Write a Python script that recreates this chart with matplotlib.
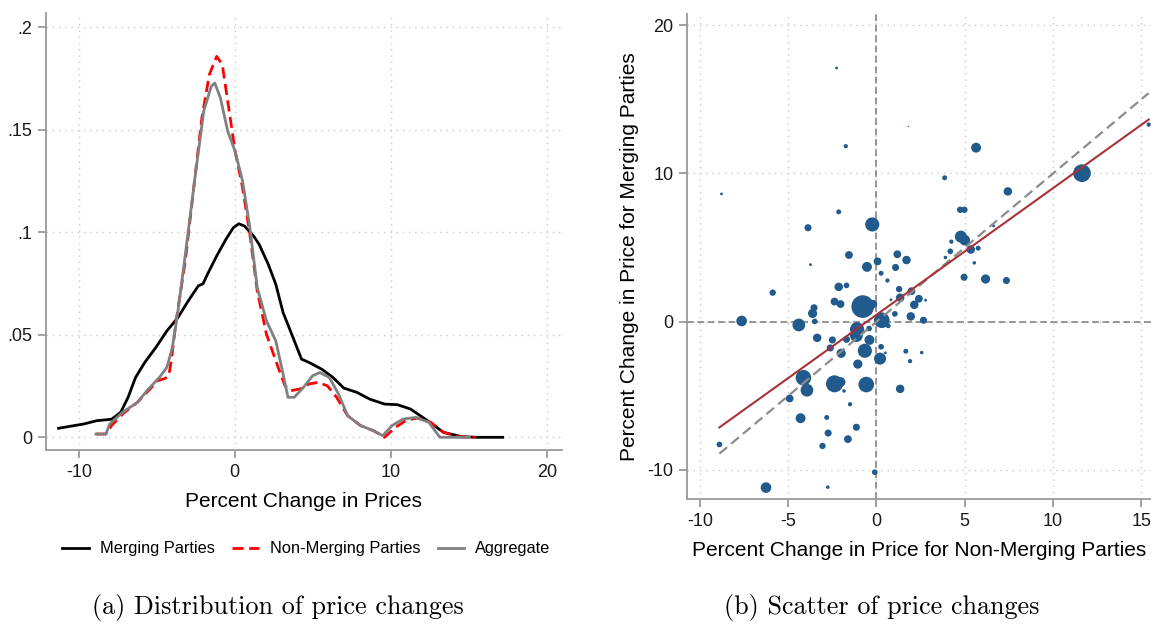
import matplotlib
matplotlib.use('Agg')
import matplotlib.pyplot as plt
import numpy as np

plt.rcParams['font.family'] = ['Liberation Sans', 'DejaVu Sans']
plt.rcParams['axes.unicode_minus'] = False

# kernel density of price changes, read as (x, density) pairs
merg_x = [-11.3, -9.68, -8.85, -7.9, -7.31, -6.84, -6.36, -5.77, -5.06, -4.35, -3.64, -3.05,
          -2.70, -2.34, -2.03, -1.75, -1.16, -0.57, -0.09, 0.26, 0.62, 1.21, 1.56, 2.15,
          2.63, 3.10, 3.69, 4.28, 4.76, 5.58, 6.29, 6.99, 7.83, 8.66, 9.6, 10.43, 11.26,
          12.21, 13.39, 14.57, 15.52, 17.18]
merg_y = [0.0044, 0.0065, 0.0081, 0.0088, 0.0122, 0.0195, 0.0292, 0.0365, 0.0438, 0.0519,
          0.0584, 0.0657, 0.0697, 0.0738, 0.0749, 0.0795, 0.0884, 0.0965, 0.1022, 0.1041,
          0.1030, 0.0981, 0.0941, 0.0843, 0.0746, 0.0608, 0.0495, 0.0381, 0.0365, 0.0332,
          0.0292, 0.0240, 0.0219, 0.0186, 0.0162, 0.0159, 0.0138, 0.0089, 0.0024, 0.0003,
          0.0, 0.0]

nonmerg_x = [-8.9, -8.26, -7.9, -7.19, -6.25, -5.54, -4.94, -4.47, -4.23, -4.07, -3.76, -3.17,
             -2.58, -2.11, -1.63, -1.16, -0.8, -0.45, 0.02, 0.50, 0.97, 1.44, 2.03, 2.63,
             3.22, 3.57, 4.16, 4.76, 5.35, 5.94, 6.53, 7.24, 8.07, 8.9, 9.6, 10.31, 11.02,
             11.73, 12.56, 13.39, 14.34, 15.4]
nonmerg_y = [0.0016, 0.0016, 0.0057, 0.0114, 0.0170, 0.0227, 0.0276, 0.0287, 0.0300, 0.0373,
             0.0568, 0.0860, 0.1249, 0.1557, 0.1768, 0.1857, 0.1817, 0.1638, 0.1395, 0.1217,
             0.0989, 0.0714, 0.0503, 0.0373, 0.0251, 0.0227, 0.0235, 0.0260, 0.0268, 0.0251,
             0.0195, 0.0105, 0.0057, 0.0032, 0.0, 0.0049, 0.0084, 0.0094, 0.0073, 0.0024,
             0.0003, 0.0]

agg_x = [-8.9, -8.26, -8.02, -7.19, -6.25, -5.54, -4.83, -4.35, -4.0, -3.64, -3.17, -2.58,
         -1.99, -1.51, -1.28, -0.92, -0.45, 0.02, 0.50, 0.97, 1.44, 2.03, 2.63, 3.10, 3.41,
         3.81, 4.4, 4.99, 5.46, 6.06, 6.65, 7.24, 8.07, 8.9, 9.49, 10.08, 10.79, 11.61,
         12.44, 13.15, 15.05]
agg_y = [0.0016, 0.0016, 0.0065, 0.0122, 0.0170, 0.0235, 0.0292, 0.0341, 0.0438, 0.0616,
         0.0892, 0.1249, 0.1590, 0.1711, 0.1727, 0.1655, 0.1492, 0.1395, 0.1249, 0.1022,
         0.0730, 0.0568, 0.0470, 0.0308, 0.0195, 0.0195, 0.0243, 0.0300, 0.0316, 0.0292,
         0.0211, 0.0105, 0.0057, 0.0032, 0.0008, 0.0057, 0.0089, 0.0097, 0.0073, 0.0, 0.0]

# market-level price changes (non-merging on x, merging on y) and analytic weights
chg_nonmerg = [-2.26, 1.80, -1.74, 5.64, -8.78, 11.64, 3.86, 7.44, -2.14, 4.74, 4.98, -0.24,
               -3.88, 6.64, 4.78, 5.00, 4.24, 5.34, 5.76, 4.18, 3.90, 5.54, -1.56, 1.18,
               1.70, 0.06, -0.54, 1.08, -3.74, 0.26, 0.62, 4.96, 6.18, 7.36, -2.14, -1.70,
               -5.88, 1.28, 1.98, 2.40, 2.78, 0.82, 1.34, -2.38, -2.04, -0.78, -0.20, 2.14,
               -3.54, -3.62, 1.04, 1.94, 2.66, -3.50, -7.64, -4.40, 0.30, 0.66, -0.42, -1.10,
               -1.14, -3.36, -2.50, -1.70, -0.40, -2.62, 0.26, -2.00, -0.66, 1.66, 2.56, 0.50,
               0.20, 1.90, -1.06, -4.14, -3.94, -2.38, -2.04, -1.84, -0.58, 1.34, -4.92, -1.50,
               -4.30, -2.82, -2.74, -1.14, -1.62, -3.06, -8.90, -0.10, -6.26, -2.76, 15.42]
chg_merg = [17.12, 13.17, 11.84, 11.74, 8.62, 10.02, 9.71, 8.79, 7.41, 7.55, 7.55, 6.56,
            6.34, 6.46, 5.74, 5.50, 5.40, 4.87, 4.96, 4.75, 4.33, 3.97, 4.50, 4.55,
            4.16, 4.07, 3.70, 3.66, 3.85, 3.27, 2.78, 3.00, 2.88, 2.78, 2.35, 2.45,
            1.96, 2.20, 2.06, 1.55, 1.45, 1.48, 1.62, 1.36, 1.19, 1.02, 1.19, 1.14,
            0.94, 0.56, 0.53, 0.36, 0.10, 0.02, 0.05, -0.22, 0.10, -0.27, -0.46, -0.51,
            -0.94, -1.09, -1.23, -1.19, -1.23, -1.77, -1.69, -2.13, -1.96, -1.99, -2.08, -2.10,
            -2.49, -2.66, -2.86, -3.78, -4.62, -4.19, -4.07, -4.67, -4.24, -4.53, -5.18, -5.57,
            -6.51, -6.46, -7.51, -7.12, -7.92, -8.38, -8.28, -10.15, -11.19, -11.16, 13.30]
weight = [16, 4, 36, 196, 16, 625, 49, 144, 49, 81, 81, 400,
          100, 16, 289, 225, 36, 144, 49, 64, 25, 25, 121, 121,
          144, 121, 196, 100, 16, 49, 36, 100, 169, 100, 144, 64,
          81, 81, 121, 121, 16, 16, 144, 121, 121, 1024, 144, 144,
          100, 169, 64, 144, 100, 64, 225, 324, 484, 49, 64, 400,
          324, 144, 100, 100, 196, 100, 64, 169, 400, 49, 25, 16,
          289, 36, 169, 484, 324, 576, 196, 25, 484, 144, 121, 36,
          196, 49, 100, 100, 121, 81, 64, 64, 225, 25, 36]

# weighted linear fit of merging on non-merging price change
fit_const = 0.47
fit_slope = 0.854

x_ticks_a = [-10, 0, 10, 20]
y_ticks_a = [0, 0.05, 0.1, 0.15, 0.2]
y_labels_a = ['0', '.05', '.1', '.15', '.2']
x_ticks_b = [-10, -5, 0, 5, 10, 15]
y_ticks_b = [-10, 0, 10, 20]

spine_col = '#9a9a9a'
grid_col = '#c9c9c9'


def stata_axes(ax):
    for side in ['top', 'right']:
        ax.spines[side].set_visible(False)
    for side in ['left', 'bottom']:
        ax.spines[side].set_color(spine_col)
        ax.spines[side].set_linewidth(1.3)
    ax.tick_params(direction='out', length=6, width=1.3, color=spine_col,
                   labelsize=13, labelcolor='#1a1a1a', pad=4)
    ax.grid(True, color=grid_col, linestyle=(0, (1, 3.5)), linewidth=1.0)
    ax.set_axisbelow(True)


fig = plt.figure(figsize=(11.51, 6.28), dpi=100)

# (a) densities
ax1 = fig.add_axes([0.040, 0.2834, 0.448, 0.6954])
stata_axes(ax1)
ax1.plot(merg_x, merg_y, color='black', lw=2.0, label='Merging Parties')
ax1.plot(nonmerg_x, nonmerg_y, color='#ff0000', lw=2.0, dashes=(4, 2),
         label='Non-Merging Parties')
ax1.plot(agg_x, agg_y, color='#808080', lw=2.0, label='Aggregate')
ax1.set_xlim(-12.1, 20.96)
ax1.set_ylim(-0.0062, 0.2067)
ax1.set_xticks(x_ticks_a)
ax1.set_yticks(y_ticks_a)
ax1.set_yticklabels(y_labels_a)
ax1.set_xlabel('Percent Change in Prices', fontsize=15, labelpad=8)
fig.legend(loc='center', bbox_to_anchor=(0.2663, 0.126), ncol=3, frameon=False,
           fontsize=11.8, handlelength=1.6, handletextpad=0.67, columnspacing=1.1)

# (b) scatter
ax2 = fig.add_axes([0.5971, 0.2054, 0.4029, 0.7726])
stata_axes(ax2)
ax2.axhline(0, color='#7a7a7a', lw=1.1, dashes=(4.4, 2.4))
ax2.axvline(0, color='#7a7a7a', lw=1.1, dashes=(4.4, 2.4))
ax2.scatter(chg_nonmerg, chg_merg, s=np.array(weight) * 0.26, color='#215a8c',
            linewidths=0, zorder=3)
xs = np.array([min(chg_nonmerg), max(chg_nonmerg)])
ax2.plot(xs, xs, color='#8c8c8c', lw=1.6, dashes=(4.5, 2.4), zorder=4)
ax2.plot(xs, fit_const + fit_slope * xs, color='#a83238', lw=1.5, zorder=4)
ax2.set_xlim(-10.72, 15.55)
ax2.set_ylim(-11.96, 20.77)
ax2.set_xticks(x_ticks_b)
ax2.set_yticks(y_ticks_b)
ax2.set_xlabel('Percent Change in Price for Non-Merging Parties', fontsize=15, labelpad=8)
ax2.set_ylabel('Percent Change in Price for Merging Parties', fontsize=15, labelpad=6)

fig.text(0.2411, 0.033, '(a) Distribution of price changes', family='cmr10',
         fontsize=18.8, ha='center', va='center')
fig.text(0.7659, 0.033, '(b) Scatter of price changes', family='cmr10',
         fontsize=18.8, ha='center', va='center')

fig.savefig('out.png', dpi=100)
